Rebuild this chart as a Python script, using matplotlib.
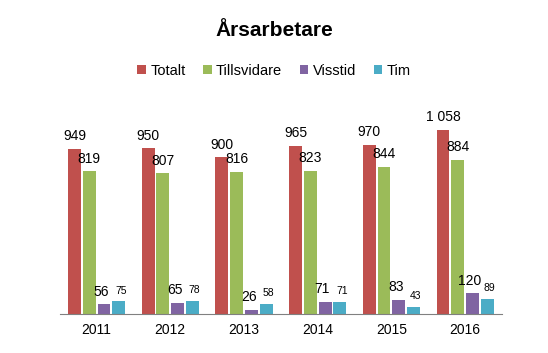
import matplotlib.pyplot as plt
import numpy as np

# data
years = ['2011', '2012', '2013', '2014', '2015', '2016']
totalt = [949, 950, 900, 965, 970, 1058]
tillsvidare = [819, 807, 816, 823, 844, 884]
visstid = [56, 65, 26, 71, 83, 120]
tim = [75, 78, 58, 71, 43, 89]

series = ['Totalt', 'Tillsvidare', 'Visstid', 'Tim']
colors = ['#C0504D', '#9BBB59', '#8064A2', '#4BACC6']


def fmt(v):
    # mellanslag som tusentalsavgränsare
    return f'{v:,}'.replace(',', ' ')


plt.rcParams['font.family'] = ['Liberation Sans', 'DejaVu Sans']

fig = plt.figure(figsize=(5.48, 3.53), dpi=100)
ax = fig.add_axes([0.109, 0.110, 0.807, 0.593])

x = np.arange(len(years))
offsets = [-0.30, -0.10, 0.10, 0.30]
width = 0.175
label_sizes = [10, 10, 10, 7.5]
label_dx = [0, 0, -2, 1.5]  # små förskjutningar så etiketterna inte krockar

for vals, name, col, off, fs, dx in zip([totalt, tillsvidare, visstid, tim], series, colors,
                                        offsets, label_sizes, label_dx):
    ax.bar(x + off, vals, width, color=col, label=name)
    for xi, v in zip(x, vals):
        ax.annotate(fmt(v), (xi + off, v), xytext=(dx, 4), textcoords='offset points',
                    ha='center', va='bottom', fontsize=fs)

ax.set_xlim(-0.5, len(years) - 0.5)
ax.set_ylim(0, 1200)
ax.set_xticks(x)
ax.set_xticklabels(years, fontsize=10)
ax.tick_params(axis='x', length=0, pad=6)
ax.set_yticks([])
for s in ['top', 'right', 'left']:
    ax.spines[s].set_visible(False)
ax.spines['bottom'].set_color('#808080')

fig.text(0.5, 0.915, 'Årsarbetare', ha='center', va='center', fontsize=15, fontweight='bold')
fig.legend(loc='center', bbox_to_anchor=(0.5, 0.80), ncol=4, frameon=False, fontsize=10.5,
           handlelength=0.6, handleheight=0.6, handletextpad=0.3, columnspacing=1.2)

fig.savefig('out.png', dpi=100)
